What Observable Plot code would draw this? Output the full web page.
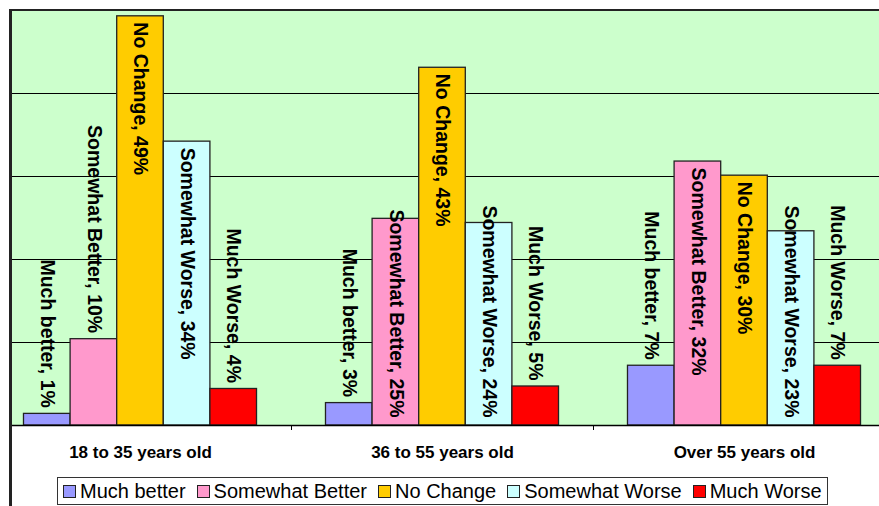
<!DOCTYPE html>
<html>
<head>
<meta charset="utf-8">
<script src="https://cdn.jsdelivr.net/npm/d3@7"></script>
<script src="https://cdn.jsdelivr.net/npm/@observablehq/plot@0.6"></script>
<style>
  html, body { margin: 0; padding: 0; background: #fff; }
  body { width: 879px; height: 506px; position: relative; overflow: hidden; font-family: 'Liberation Sans', Arial, sans-serif; }
  #clip { position: absolute; left: 12px; top: 0; width: 867px; height: 470px; overflow: hidden; }
  #clip svg { position: absolute; left: -12px; top: 0; max-width: none !important; width: 879px; height: 470px; }
  #frame { position: absolute; left: 9px; top: 9px; width: 900px; height: 520px; border-left: 3px solid #222; border-top: 2px solid #222; pointer-events: none; }
  #legend { position: absolute; left: 57px; top: 477px; height: 28px; box-sizing: border-box; border: 1px solid #333; display: flex; align-items: center; padding: 0 5px; gap: 11px; background: #fff; font-size: 20px; line-height: 20px; color: #000; white-space: nowrap; }
  #legend .item { display: flex; align-items: center; }
  #legend .sw { width: 13px; height: 13px; box-sizing: border-box; border: 1.5px solid #222; margin-right: 4px; }
</style>
</head>
<body>
<div id="clip"></div>
<div id="frame"></div>
<div id="legend"></div>
<script>
// ---- data ----
const groups = ["18 to 35 years old", "36 to 55 years old", "Over 55 years old"];
const series = ["Much better", "Somewhat Better", "No Change", "Somewhat Worse", "Much Worse"];
const seriesColors = ["#9999ff", "#ff99cc", "#ffcc00", "#ccffff", "#ff0000"];
const muchBetter     = [1.4, 2.7, 7.2];
const somewhatBetter = [10.4, 24.9, 31.8];
const noChange       = [49.3, 43.1, 30.1];
const somewhatWorse  = [34.2, 24.4, 23.4];
const muchWorse      = [4.4, 4.7, 7.2];
const gridValues = [10, 20, 30, 40];
const yMax = 50;

// ---- table ----
const seriesValues = [muchBetter, somewhatBetter, noChange, somewhatWorse, muchWorse];
const inner = d3.scaleBand().domain(series).range([0, 1]).paddingInner(0).paddingOuter(0.74);
const rows = [];
groups.forEach((g, gi) => {
  series.forEach((s, si) => {
    const v = seriesValues[si][gi];
    rows.push({group: g, series: s, value: v, x1: gi + inner(s), x2: gi + inner(s) + inner.bandwidth(),
               label: `${s}, ${Math.round(v)}%`});
  });
});

// ---- layout ----
const W = 879, H = 470, MT = 10, MB = 45, ML = -11, MR = -16;
const k = (H - MT - MB) / yMax;
const labelFont = 19.5;
const ctx = document.createElement("canvas").getContext("2d");
ctx.font = `bold ${labelFont}px 'Liberation Sans', Arial, sans-serif`;
const above = [], insideTop = [], insideBottom = [];
for (const r of rows) {
  const L = ctx.measureText(r.label).width;
  const top = (H - MB) - r.value * k;
  if (top - 6 - L >= MT + 15) above.push(r);
  else if (top + 6 + L <= (H - MB) - 8) insideTop.push(r);
  else insideBottom.push(r);
}
const cx = d => (d.x1 + d.x2) / 2;
const labelStyle = {text: "label", rotate: 90, fontSize: labelFont, fontWeight: "bold", fill: "#000"};

const plot = Plot.plot({
  width: W, height: H,
  marginTop: MT, marginBottom: MB, marginLeft: ML, marginRight: MR,
  style: {fontFamily: "'Liberation Sans', Arial, sans-serif", background: "transparent", overflow: "visible"},
  x: {type: "linear", domain: [0, groups.length], ticks: d3.range(1, groups.length), tickSize: 5, tickFormat: () => "", label: null},
  y: {domain: [0, yMax], axis: null},
  color: {domain: series, range: seriesColors},
  marks: [
    Plot.frame({fill: "#ccffcc", stroke: "none"}),
    Plot.ruleY(gridValues, {stroke: "#000", strokeWidth: 1}),
    Plot.rect(rows, {x1: "x1", x2: "x2", y1: 0, y2: "value", fill: "series", stroke: "#222", strokeWidth: 1.3}),
    Plot.ruleY([0], {stroke: "#000", strokeWidth: 1.5}),
    Plot.text(above, {...labelStyle, x: cx, y: "value", textAnchor: "end", dy: -6}),
    Plot.text(insideTop, {...labelStyle, x: cx, y: "value", textAnchor: "start", dy: 6}),
    Plot.text(insideBottom, {...labelStyle, x: cx, y: () => 0, textAnchor: "end", dy: -8}),
    Plot.text(groups, {x: (d, i) => i + 0.5, y: () => 0, dy: 27, text: d => d, fontSize: 17, fontWeight: "bold", fill: "#000"})
  ]
});
document.getElementById("clip").appendChild(plot);

// ---- legend ----
const legend = document.getElementById("legend");
series.forEach((s, i) => {
  const item = document.createElement("div");
  item.className = "item";
  const sw = document.createElement("div");
  sw.className = "sw";
  sw.style.background = seriesColors[i];
  const t = document.createElement("span");
  t.textContent = s;
  item.appendChild(sw); item.appendChild(t);
  legend.appendChild(item);
});
</script>
</body>
</html>
